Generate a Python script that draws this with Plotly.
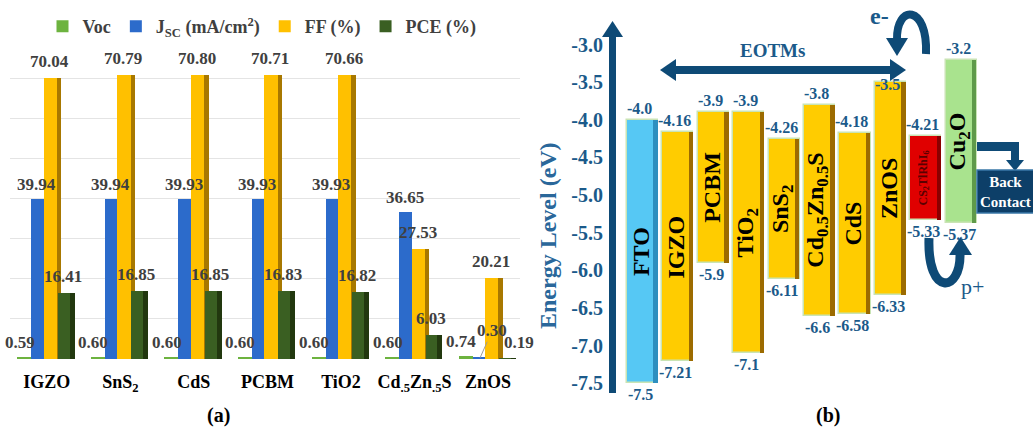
import plotly.graph_objects as go

# ---------------- data : panel (a) ----------------
materials_a = ["IGZO", "SnS<sub>2</sub>", "CdS", "PCBM", "TiO2",
               "Cd<sub>.5</sub>Zn<sub>.5</sub>S", "ZnOS"]
voc = [0.59, 0.60, 0.60, 0.60, 0.60, 0.60, 0.74]
jsc = [39.94, 39.94, 39.93, 39.93, 39.93, 36.65, 0.30]
ff = [70.04, 70.79, 70.80, 70.71, 70.66, 27.53, 20.21]
pce = [16.41, 16.85, 16.85, 16.83, 16.82, 6.03, 0.19]
series_names = ["Voc", "J<sub>SC</sub> (mA/cm<sup>2</sup>)", "FF (%)", "PCE (%)"]

# ---------------- data : panel (b) ----------------
layers_b = ["FTO", "IGZO", "PCBM", "TiO<sub>2</sub>", "SnS<sub>2</sub>",
            "Cd<sub>0.5</sub>Zn<sub>0.5</sub>S", "CdS", "ZnOS",
            "CS<sub>2</sub>TlRhI<sub>6</sub>", "Cu<sub>2</sub>O"]
lumo = [-4.0, -4.16, -3.9, -3.9, -4.26, -3.8, -4.18, -3.5, -4.21, -3.2]
homo = [-7.5, -7.21, -5.9, -7.1, -6.11, -6.6, -6.58, -6.33, -5.33, -5.37]
lumo_labels = ["-4.0", "-4.16", "-3.9", "-3.9", "-4.26", "-3.8", "-4.18", "-3.5", "-4.21", "-3.2"]
homo_labels = ["-7.5", "-7.21", "-5.9", "-7.1", "-6.11", "-6.6", "-6.58", "-6.33", "-5.33", "-5.37"]
energy_ticks = [-3.0, -3.5, -4.0, -4.5, -5.0, -5.5, -6.0, -6.5, -7.0, -7.5]

# ---------------- styles ----------------
W, H = 1033, 433
SERIF = "Liberation Serif"
NAVY = "#0E4A76"
NAVY_T = "#1B5A8A"
GRAYT = "#404040"
# vertical pixel nudges of the top labels in panel (b) (style only)
top_label_dy = [1, 1, 1, 1, 1, 1, 1, -13, 1, 1]


def px(x):
    return x / W


def py(y):
    return 1 - y / H


fig = go.Figure()

lbl_font = dict(family=SERIF, size=17, color=GRAYT, weight="bold")


# ---- panel (a) bars ----
def add_a(vals, name, color, offset, width, legend=True):
    fig.add_trace(go.Bar(
        x=materials_a, y=vals, name=name, xaxis="x", yaxis="y",
        marker=dict(color=color, line=dict(width=0)),
        offset=offset, width=width, showlegend=legend,
        hoverinfo="skip" if not legend else None,
    ))


add_a(voc, series_names[0], "#6DB33F", -0.40, 0.20)
add_a(jsc, series_names[1], "#2C6BCB", -0.21, 0.18)
add_a(ff, series_names[2], "#FFC000", -0.04, 0.18)
add_a(ff, "ff_side", "#A87800", 0.14, 0.06, legend=False)
add_a(pce, series_names[3], "#3A5F22", 0.15, 0.16)
add_a(pce, "pce_side", "#22380F", 0.31, 0.07, legend=False)

# ---- panel (b) bars ----
b_colors = ["#56C8F4"] + ["#FFCC00"] * 7 + ["#E00000", "#A9E38E"]
b_side = ["#2D8FBF"] + ["#9C6B00"] * 7 + ["#8A0000", "#5F9A4A"]
heights = [t - b for t, b in zip(lumo, homo)]
fig.add_trace(go.Bar(
    x=layers_b, y=heights, base=homo, xaxis="x2", yaxis="y2",
    marker=dict(color=b_colors, line=dict(color="#C9E4B4", width=1.5)),
    width=0.88, offset=-0.44, showlegend=False, hoverinfo="skip",
))
fig.add_trace(go.Bar(
    x=layers_b, y=heights, base=homo, xaxis="x2", yaxis="y2",
    marker=dict(color=b_side, line=dict(width=0)),
    width=0.12, offset=0.31, showlegend=False, hoverinfo="skip",
))

annotations = []

# panel (a) value labels (drawn on top of all bars)
n = len(materials_a)
for i, m in enumerate(materials_a):
    annotations.append(dict(x=m, y=voc[i], xref="x", yref="y", text=f"{voc[i]:.2f}",
                            showarrow=False, yanchor="bottom", yshift=3, xshift=-27, font=lbl_font))
    if i < n - 1:
        annotations.append(dict(x=m, y=jsc[i], xref="x", yref="y", text=f"{jsc[i]:.2f}",
                                showarrow=False, yanchor="bottom", yshift=3, xshift=-10, font=lbl_font))
        annotations.append(dict(x=m, y=pce[i], xref="x", yref="y", text=f"{pce[i]:.2f}",
                                showarrow=False, yanchor="bottom", yshift=5, xshift=16, font=lbl_font))
    annotations.append(dict(x=m, y=ff[i], xref="x", yref="y", text=f"{ff[i]:.2f}",
                            showarrow=False, yanchor="bottom", yshift=5, xshift=3, font=lbl_font))

# special label of ZnOS Jsc with leader line, and ZnOS PCE
annotations.append(dict(
    x=materials_a[6], y=jsc[6], xref="x", yref="y", xshift=-8,
    text=f"{jsc[6]:.2f}", showarrow=True, arrowhead=0, arrowwidth=1,
    arrowcolor="#9A9A9A", ax=12, ay=-27, font=lbl_font,
))
annotations.append(dict(
    x=materials_a[6], y=pce[6], xref="x", yref="y", xshift=31,
    text=f"{pce[6]:.2f}", showarrow=False, yanchor="bottom", yshift=4, font=lbl_font,
))

# panel (b) value labels and layer names
val_font = dict(family=SERIF, size=16, color=NAVY_T, weight="bold")
for i, name in enumerate(layers_b):
    annotations.append(dict(x=name, y=lumo[i], xref="x2", yref="y2", text=lumo_labels[i],
                            showarrow=False, yanchor="bottom", yshift=top_label_dy[i], xshift=-3,
                            font=val_font))
    annotations.append(dict(x=name, y=homo[i], xref="x2", yref="y2", text=homo_labels[i],
                            showarrow=False, yanchor="top", yshift=-1, xshift=-2, font=val_font))
    small = i == 8
    annotations.append(dict(
        x=name, y=(lumo[i] + homo[i]) / 2, xref="x2", yref="y2", text=name,
        showarrow=False, textangle=-90, xshift=-2,
        font=dict(family=SERIF, size=12 if small else 24,
                  color="#5A0000" if small else "black", weight="bold"),
    ))


def ptext(x, y, text, size, color, bold=True):
    return dict(x=px(x), y=py(y), xref="paper", yref="paper", text=text,
                xanchor="center", yanchor="middle", showarrow=False,
                font=dict(family=SERIF, size=size, color=color,
                          weight="bold" if bold else "normal"))


annotations += [
    dict(ptext(548, 236, "Energy Level (eV)", 24, "#2A679A"), textangle=-90),
    ptext(772, 50, "EOTMs", 19, NAVY_T),
    ptext(879, 16, "e-", 24, NAVY_T),
    ptext(972, 286, "p+", 22, NAVY_T, bold=False),
    ptext(1005, 192, "Back<br>Contact", 15, "white"),
    ptext(218, 415, "(a)", 20, "black"),
    ptext(828, 415, "(b)", 20, "black"),
]


def poly(pts, color):
    path = "M " + " L ".join(f"{px(a)},{py(b)}" for a, b in pts) + " Z"
    return dict(type="path", path=path, xref="paper", yref="paper",
                fillcolor=color, line=dict(width=0), layer="above")


def rect(x0, y0, x1, y1, color, line=None):
    return dict(type="rect", xref="paper", yref="paper", x0=px(x0), x1=px(x1),
                y0=py(y1), y1=py(y0), fillcolor=color,
                line=line or dict(width=0), layer="above")


shapes = []
# shadow decoration
shapes.append(dict(type="path", xref="paper", yref="paper", layer="below",
                   path="M " + " L ".join(f"{px(a)},{py(b)}" for a, b in
                                           [(700, 398), (790, 330), (1033, 330), (1033, 372), (860, 398)]) + " Z",
                   fillcolor="rgba(160,160,160,0.4)", line=dict(width=0)))
# y axis arrow
shapes.append(rect(609, 34, 616, 393, NAVY))
shapes.append(poly([(602, 37), (623, 37), (612.5, 21)], NAVY))
# EOTMs double arrow
shapes.append(rect(672, 66, 894, 74, NAVY))
shapes.append(poly([(660, 70), (676, 59), (676, 81)], NAVY))
shapes.append(poly([(906, 70), (890, 59), (890, 81)], NAVY))
# e- curved arrow
shapes.append(dict(type="path", xref="paper", yref="paper", layer="above",
                   path=f"M {px(926)},{py(54)} C {px(928)},{py(4)} {px(896)},{py(4)} {px(897)},{py(40)}",
                   line=dict(color=NAVY, width=8)))
shapes.append(poly([(886, 38), (908, 38), (897, 56)], NAVY))
# p+ U arrow
shapes.append(dict(type="path", xref="paper", yref="paper", layer="above",
                   path=f"M {px(929)},{py(238)} C {px(927)},{py(298)} {px(961)},{py(292)} {px(960)},{py(254)}",
                   line=dict(color=NAVY, width=9)))
shapes.append(poly([(949, 255), (972, 255), (960.5, 237)], NAVY))
# back contact connector and box
shapes.append(rect(977, 142, 1019, 151, NAVY))
shapes.append(rect(1011, 142, 1019, 162, NAVY))
shapes.append(poly([(1006, 160), (1024, 160), (1015, 171)], NAVY))
shapes.append(rect(977, 170, 1040, 213, "#0D3F68", dict(color="#3A78A8", width=1.5)))

fig.update_layout(
    width=W, height=H, margin=dict(l=0, r=0, t=0, b=0),
    paper_bgcolor="white", plot_bgcolor="white",
    barmode="overlay", bargap=0,
    font=dict(family=SERIF),
    legend=dict(orientation="h", x=px(262), xanchor="center", y=py(8), yanchor="top",
                font=dict(family=SERIF, size=18, color=GRAYT, weight="bold"),
                itemwidth=30, bgcolor="rgba(0,0,0,0)", traceorder="normal"),
    xaxis=dict(domain=[px(10), px(530)], range=[-0.5, 6.57], showgrid=False,
               showline=False, ticks="", ticklabelstandoff=10,
               tickfont=dict(family=SERIF, size=18, color="black", weight="bold")),
    yaxis=dict(domain=[py(359), py(38)], range=[0, 80], dtick=10, showgrid=True,
               gridcolor="#E4E4E4", gridwidth=1, zeroline=False, showticklabels=False,
               showline=False),
    xaxis2=dict(domain=[px(520), 1], range=[-3.46, 11.03], showgrid=False,
                showticklabels=False, showline=False, zeroline=False, anchor="y2"),
    yaxis2=dict(domain=[0, 1], range=[-8.16, -2.409], anchor="free", position=px(612),
                tickvals=energy_ticks, ticktext=[f"{v:.1f}" for v in energy_ticks],
                ticks="", ticklabelstandoff=9, showgrid=False, zeroline=False, showline=False,
                tickfont=dict(family=SERIF, size=20, color=NAVY_T, weight="bold")),
    annotations=annotations, shapes=shapes,
)

fig.write_html("out.html", config={"displayModeBar": False},
               post_script="document.body.style.margin='0px';")
